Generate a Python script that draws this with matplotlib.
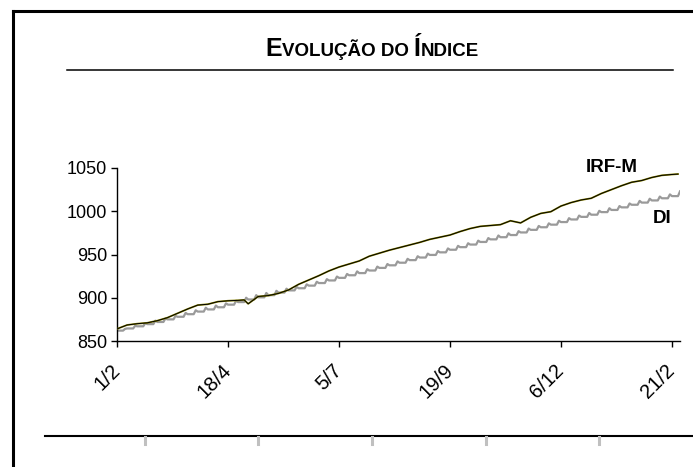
import numpy as np
import matplotlib.pyplot as plt
from matplotlib.lines import Line2D
from matplotlib.offsetbox import TextArea, HPacker, AnchoredOffsetbox

plt.rcParams['font.family'] = ['Liberation Sans', 'DejaVu Sans']

# Dias uteis (indice) e rotulos do eixo X
tick_pos = [0, 55, 110, 165, 220, 275]
tick_labels = ['1/2', '18/4', '5/7', '19/9', '6/12', '21/2']

# IRF-M, uma leitura por semana (indice do dia util)
irfm_dias = [0, 5, 10, 15, 20, 25, 30, 35, 40, 45, 50, 55, 60, 63, 65, 70, 75, 80, 85, 90,
             95, 100, 105, 110, 115, 120, 125, 130, 135, 140, 145, 150, 155, 160, 165,
             170, 175, 180, 185, 190, 195, 200, 205, 210, 215, 220, 225, 230, 235, 240,
             245, 250, 255, 260, 265, 270, 275, 278]
irfm = [864, 868.5, 870, 871, 873.5, 877, 882, 887, 891.5, 892.5, 895.5, 896.5, 897, 897.5, 893,
        901.5, 902.5, 905, 909, 915.5, 920.5, 925.5, 931, 935.5, 939, 942.5, 948, 951.5,
        955, 958, 961, 964, 967.5, 970, 972.5, 976.5, 980, 982.5, 983.5, 984.5, 989, 986.5,
        993, 997.5, 999.5, 1006, 1010, 1013, 1015, 1020.5, 1025, 1029.5, 1033.5, 1035.5,
        1039, 1041.5, 1042.5, 1043]

# DI: valor base no inicio de cada semana e pico semanal
di_base = [862, 864.5, 867, 869.5, 872, 875, 878, 881, 884, 886.5, 889, 892, 895, 898,
           900.5, 903, 906, 908.5, 911, 914, 917, 920, 923, 926, 928.5, 931.5, 934.5, 937.5,
           940.5, 943.5, 946.5, 949.5, 952.5, 955.5, 958.5, 961.5, 964.5, 967.5, 970,
           972.5, 975.5, 978.5, 981.5, 984.5, 987.5, 990.5, 993.5, 996, 999, 1001.5,
           1004.5, 1007.5, 1010, 1012.5, 1015, 1017.5]
di_pico = [864, 867.5, 870.5, 873.5, 876, 879, 882.5, 885.5, 888.5, 891, 893.5, 896.5, 900,
           903, 905.5, 908, 910.5, 912.5, 915.5, 918.5, 921.5, 924.5, 927.5, 930.5, 933,
           936, 939, 942, 945, 948, 951, 954, 957, 960, 963, 966, 969, 972, 974.5, 977, 980,
           983, 986, 989, 992, 995, 998, 1000.5, 1003.5, 1006, 1009, 1012, 1014.5, 1017,
           1019.5, 1023]

di_dias = []
di = []
for k in range(len(di_base)):
    di_dias += [5 * k, 5 * k + 3, 5 * k + 4]
    di += [di_base[k], di_base[k], di_pico[k]]

W, H = 693, 467
fig = plt.figure(figsize=(W / 100, H / 100), dpi=100)
ax = fig.add_axes([117 / W, 1 - 341 / H, (680 - 117) / W, (341 - 168) / H])

ax.plot(di_dias, di, color='#9a9a9a', lw=1.6, zorder=2)
ax.plot(irfm_dias, irfm, color='#8a8400', lw=1.3, zorder=3)
ax.plot(irfm_dias, irfm, color='black', lw=0.7, zorder=4)

ax.set_xlim(0, 279)
ax.set_ylim(850, 1050)
ax.set_yticks([850, 900, 950, 1000, 1050])
ax.set_xticks(tick_pos)
ax.set_xticklabels(tick_labels, rotation=45, ha='right', va='center',
                   rotation_mode='anchor', fontsize=14.5)
ax.tick_params(axis='both', direction='out', length=4, width=1)
ax.tick_params(axis='y', pad=3, labelsize=13)
ax.tick_params(axis='x', pad=15)
for s in ['top', 'right']:
    ax.spines[s].set_visible(False)
for s in ['left', 'bottom']:
    ax.spines[s].set_linewidth(1)

ax.text(245, 1050, 'IRF-M', fontsize=13.5, fontweight='bold', ha='center', va='center',
        clip_on=False)
ax.text(270, 992, 'DI', fontsize=13.5, fontweight='bold', ha='center', va='center',
        clip_on=False)

# titulo em versalete
partes = [('E', 18), ('VOLUÇÃO DO ', 13.5), ('Í', 18), ('NDICE', 13.5)]
areas = [TextArea(t, textprops=dict(fontsize=s, fontweight='bold')) for t, s in partes]
caixa = HPacker(children=areas, align='baseline', pad=0, sep=0)
anc = AnchoredOffsetbox(loc='center', child=caixa, frameon=False,
                        bbox_to_anchor=(372 / W, 1 - 49 / H),
                        bbox_transform=fig.transFigure, borderpad=0)
fig.add_artist(anc)

def linha(x0, y0, x1, y1, **kw):
    fig.add_artist(Line2D([x0 / W, x1 / W], [1 - y0 / H, 1 - y1 / H],
                          transform=fig.transFigure, **kw))

# moldura e linhas decorativas
linha(13, 11, W, 11, color='black', lw=2.2)
linha(13, 11, 13, H, color='black', lw=2.2)
linha(67, 70, 673, 70, color='black', lw=1.1)
linha(45, 436, W, 436, color='black', lw=1.5)
for xg in [145, 258, 372, 486, 599]:
    linha(xg, 437, xg, 444, color='#c0c0c0', lw=2.2)

fig.savefig('out.png', dpi=100)
